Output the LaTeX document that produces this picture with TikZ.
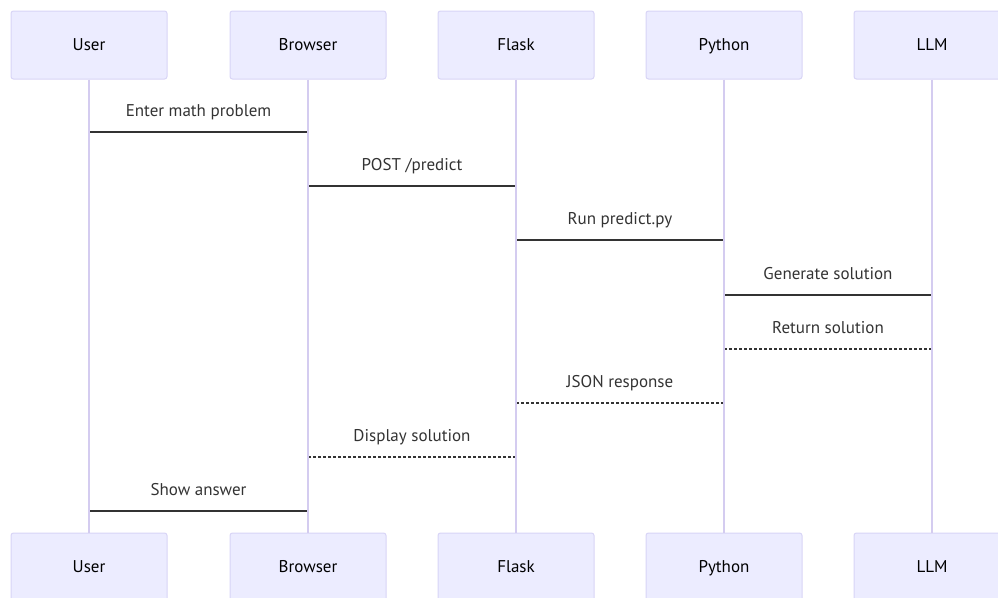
\documentclass[tikz,border=0pt]{standalone}
\usepackage{fontspec}
\setmainfont{PT Sans}
\usetikzlibrary{calc}
\definecolor{boxfill}{HTML}{ECECFF}
\definecolor{boxline}{HTML}{D8D4F6}
\definecolor{life}{HTML}{D4CCF0}
\definecolor{msg}{HTML}{333333}
\begin{document}
\begin{tikzpicture}[x=1pt,y=-1pt,
  actor/.style={draw=boxline,fill=boxfill,rounded corners=2.5pt,minimum width=156pt,minimum height=68pt,line width=1pt,font=\fontsize{17}{20}\selectfont,text=black,inner sep=0pt,text height=13.5pt,text depth=2.5pt},
  lifeline/.style={draw=life,line width=1.6pt},
  msgline/.style={draw=msg,line width=1.3pt},
  retline/.style={draw=msg,line width=1.1pt,dash pattern=on 3pt off 2pt},
  lbl/.style={font=\fontsize{17}{20}\selectfont,text=msg,inner sep=0pt,anchor=base}]
\useasboundingbox (0,0) rectangle (998,597);
\foreach \n/\t/\x in {u/User/89,b/Browser/308,f/Flask/516,p/Python/724,l/LLM/932}{
  \node[actor] (\n top) at (\x,45) {\t};
  \node[actor] (\n bot) at (\x,567) {\t};
}
\foreach \a/\b/\y/\s/\t in {u/b/132/msgline/{Enter math problem},b/f/186/msgline/{POST /predict},f/p/240/msgline/{Run predict.py},p/l/295/msgline/{Generate solution},l/p/349/retline/{Return solution},p/f/403/retline/{JSON response},f/b/457/retline/{Display solution},b/u/511/msgline/{Show answer}}{
  \coordinate (s\y) at (\a top.south |- 0,\y);
  \coordinate (e\y) at (\b top.south |- 0,\y);
  \draw[\s] (s\y) -- (e\y);
  \node[lbl] (t\y) at ($(s\y)!0.5!(e\y)+(0,-16)$) {\t};
}
\foreach \n in {u,b,f,p,l}{
  \draw[lifeline] (\n top.south) -- (\n bot.north);
}
\end{tikzpicture}
\end{document}
